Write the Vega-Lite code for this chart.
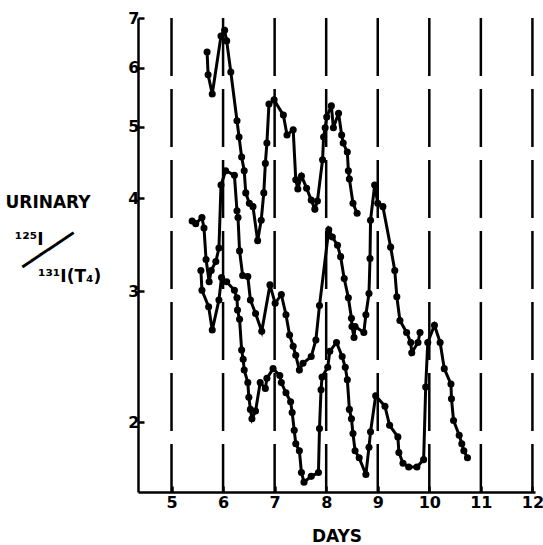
{
  "$schema": "https://vega.github.io/schema/vega-lite/v6.json",
  "width": 397,
  "height": 474,
  "autosize": {"type": "none"},
  "padding": {"left": 138, "top": 18, "right": 8, "bottom": 53},
  "background": "white",
  "datasets": {
    "days": [{"day": 5}, {"day": 6}, {"day": 7}, {"day": 8}, {"day": 9}, {"day": 10}, {"day": 11}, {"day": 12}],
    "series": [
      {"series": "A", "day": 5.69, "ratio": 6.30},
      {"series": "A", "day": 5.71, "ratio": 5.87},
      {"series": "A", "day": 5.79, "ratio": 5.53},
      {"series": "A", "day": 5.96, "ratio": 6.62},
      {"series": "A", "day": 6.03, "ratio": 6.74},
      {"series": "A", "day": 6.07, "ratio": 6.52},
      {"series": "A", "day": 6.15, "ratio": 5.92},
      {"series": "A", "day": 6.27, "ratio": 5.09},
      {"series": "A", "day": 6.31, "ratio": 4.84},
      {"series": "A", "day": 6.36, "ratio": 4.55},
      {"series": "A", "day": 6.41, "ratio": 4.36},
      {"series": "A", "day": 6.44, "ratio": 4.07},
      {"series": "A", "day": 6.51, "ratio": 3.94},
      {"series": "A", "day": 6.58, "ratio": 3.90},
      {"series": "A", "day": 6.67, "ratio": 3.51},
      {"series": "A", "day": 6.74, "ratio": 3.74},
      {"series": "A", "day": 6.79, "ratio": 4.07},
      {"series": "A", "day": 6.82, "ratio": 4.46},
      {"series": "A", "day": 6.85, "ratio": 4.75},
      {"series": "A", "day": 6.89, "ratio": 5.36},
      {"series": "A", "day": 6.99, "ratio": 5.43},
      {"series": "A", "day": 7.17, "ratio": 5.18},
      {"series": "A", "day": 7.24, "ratio": 4.87},
      {"series": "A", "day": 7.36, "ratio": 4.95},
      {"series": "A", "day": 7.41, "ratio": 4.24},
      {"series": "A", "day": 7.45, "ratio": 4.12},
      {"series": "A", "day": 7.52, "ratio": 4.29},
      {"series": "A", "day": 7.62, "ratio": 4.13},
      {"series": "A", "day": 7.71, "ratio": 3.98},
      {"series": "A", "day": 7.78, "ratio": 3.87},
      {"series": "A", "day": 7.83, "ratio": 3.97},
      {"series": "A", "day": 7.93, "ratio": 4.51},
      {"series": "A", "day": 7.95, "ratio": 4.84},
      {"series": "A", "day": 7.98, "ratio": 4.98},
      {"series": "A", "day": 8.01, "ratio": 5.15},
      {"series": "A", "day": 8.10, "ratio": 5.33},
      {"series": "A", "day": 8.14, "ratio": 4.98},
      {"series": "A", "day": 8.24, "ratio": 5.21},
      {"series": "A", "day": 8.30, "ratio": 4.87},
      {"series": "A", "day": 8.33, "ratio": 4.75},
      {"series": "A", "day": 8.41, "ratio": 4.62},
      {"series": "A", "day": 8.43, "ratio": 4.36},
      {"series": "A", "day": 8.45, "ratio": 4.25},
      {"series": "A", "day": 8.52, "ratio": 3.94},
      {"series": "A", "day": 8.60, "ratio": 3.82},
      {"series": "B", "day": 5.40, "ratio": 3.73},
      {"series": "B", "day": 5.47, "ratio": 3.70},
      {"series": "B", "day": 5.59, "ratio": 3.77},
      {"series": "B", "day": 5.63, "ratio": 3.65},
      {"series": "B", "day": 5.67, "ratio": 3.31},
      {"series": "B", "day": 5.73, "ratio": 3.09},
      {"series": "B", "day": 5.77, "ratio": 3.20},
      {"series": "B", "day": 5.86, "ratio": 3.29},
      {"series": "B", "day": 5.92, "ratio": 3.43},
      {"series": "B", "day": 5.96, "ratio": 4.17},
      {"series": "B", "day": 6.05, "ratio": 4.36},
      {"series": "B", "day": 6.22, "ratio": 4.30},
      {"series": "B", "day": 6.27, "ratio": 3.85},
      {"series": "B", "day": 6.29, "ratio": 3.77},
      {"series": "B", "day": 6.32, "ratio": 3.40},
      {"series": "B", "day": 6.38, "ratio": 3.15},
      {"series": "B", "day": 6.48, "ratio": 3.14},
      {"series": "B", "day": 6.53, "ratio": 2.92},
      {"series": "B", "day": 6.63, "ratio": 2.80},
      {"series": "B", "day": 6.75, "ratio": 2.65},
      {"series": "B", "day": 6.91, "ratio": 3.06},
      {"series": "B", "day": 7.01, "ratio": 2.89},
      {"series": "B", "day": 7.13, "ratio": 2.97},
      {"series": "B", "day": 7.22, "ratio": 2.79},
      {"series": "B", "day": 7.29, "ratio": 2.62},
      {"series": "B", "day": 7.36, "ratio": 2.53},
      {"series": "B", "day": 7.41, "ratio": 2.46},
      {"series": "B", "day": 7.48, "ratio": 2.35},
      {"series": "B", "day": 7.55, "ratio": 2.40},
      {"series": "B", "day": 7.71, "ratio": 2.45},
      {"series": "B", "day": 7.80, "ratio": 2.58},
      {"series": "B", "day": 7.87, "ratio": 2.87},
      {"series": "B", "day": 8.05, "ratio": 3.63},
      {"series": "B", "day": 8.12, "ratio": 3.55},
      {"series": "B", "day": 8.22, "ratio": 3.46},
      {"series": "B", "day": 8.28, "ratio": 3.34},
      {"series": "B", "day": 8.35, "ratio": 3.12},
      {"series": "B", "day": 8.43, "ratio": 2.94},
      {"series": "B", "day": 8.49, "ratio": 2.76},
      {"series": "B", "day": 8.50, "ratio": 2.69},
      {"series": "B", "day": 8.54, "ratio": 2.60},
      {"series": "B", "day": 8.56, "ratio": 2.69},
      {"series": "B", "day": 8.73, "ratio": 2.64},
      {"series": "B", "day": 8.77, "ratio": 2.79},
      {"series": "B", "day": 8.83, "ratio": 2.98},
      {"series": "B", "day": 8.85, "ratio": 3.32},
      {"series": "B", "day": 8.86, "ratio": 3.74},
      {"series": "B", "day": 8.94, "ratio": 4.17},
      {"series": "B", "day": 9.00, "ratio": 3.94},
      {"series": "B", "day": 9.10, "ratio": 3.90},
      {"series": "B", "day": 9.25, "ratio": 3.44},
      {"series": "B", "day": 9.33, "ratio": 3.20},
      {"series": "B", "day": 9.37, "ratio": 2.95},
      {"series": "B", "day": 9.43, "ratio": 2.74},
      {"series": "B", "day": 9.56, "ratio": 2.64},
      {"series": "B", "day": 9.64, "ratio": 2.56},
      {"series": "B", "day": 9.66, "ratio": 2.48},
      {"series": "B", "day": 9.78, "ratio": 2.56},
      {"series": "B", "day": 9.82, "ratio": 2.64},
      {"series": "C", "day": 5.57, "ratio": 3.20},
      {"series": "C", "day": 5.59, "ratio": 3.01},
      {"series": "C", "day": 5.72, "ratio": 2.86},
      {"series": "C", "day": 5.79, "ratio": 2.66},
      {"series": "C", "day": 5.92, "ratio": 2.92},
      {"series": "C", "day": 5.97, "ratio": 3.13},
      {"series": "C", "day": 6.07, "ratio": 3.09},
      {"series": "C", "day": 6.22, "ratio": 3.01},
      {"series": "C", "day": 6.27, "ratio": 2.94},
      {"series": "C", "day": 6.28, "ratio": 2.83},
      {"series": "C", "day": 6.32, "ratio": 2.75},
      {"series": "C", "day": 6.36, "ratio": 2.50},
      {"series": "C", "day": 6.39, "ratio": 2.43},
      {"series": "C", "day": 6.41, "ratio": 2.35},
      {"series": "C", "day": 6.48, "ratio": 2.26},
      {"series": "C", "day": 6.50, "ratio": 2.16},
      {"series": "C", "day": 6.53, "ratio": 2.08},
      {"series": "C", "day": 6.56, "ratio": 2.02},
      {"series": "C", "day": 6.63, "ratio": 2.07},
      {"series": "C", "day": 6.72, "ratio": 2.26},
      {"series": "C", "day": 6.82, "ratio": 2.22},
      {"series": "C", "day": 6.85, "ratio": 2.29},
      {"series": "C", "day": 6.97, "ratio": 2.36},
      {"series": "C", "day": 7.10, "ratio": 2.31},
      {"series": "C", "day": 7.13, "ratio": 2.26},
      {"series": "C", "day": 7.22, "ratio": 2.19},
      {"series": "C", "day": 7.31, "ratio": 2.13},
      {"series": "C", "day": 7.34, "ratio": 2.06},
      {"series": "C", "day": 7.38, "ratio": 1.95},
      {"series": "C", "day": 7.41, "ratio": 1.87},
      {"series": "C", "day": 7.48, "ratio": 1.83},
      {"series": "C", "day": 7.52, "ratio": 1.71},
      {"series": "C", "day": 7.57, "ratio": 1.66},
      {"series": "C", "day": 7.71, "ratio": 1.69},
      {"series": "C", "day": 7.85, "ratio": 1.71},
      {"series": "C", "day": 7.87, "ratio": 1.96},
      {"series": "C", "day": 7.90, "ratio": 2.21},
      {"series": "C", "day": 7.92, "ratio": 2.30},
      {"series": "C", "day": 8.03, "ratio": 2.37},
      {"series": "C", "day": 8.07, "ratio": 2.49},
      {"series": "C", "day": 8.20, "ratio": 2.56},
      {"series": "C", "day": 8.31, "ratio": 2.45},
      {"series": "C", "day": 8.37, "ratio": 2.37},
      {"series": "C", "day": 8.41, "ratio": 2.28},
      {"series": "C", "day": 8.45, "ratio": 2.08},
      {"series": "C", "day": 8.49, "ratio": 2.02},
      {"series": "C", "day": 8.52, "ratio": 1.93},
      {"series": "C", "day": 8.56, "ratio": 1.83},
      {"series": "C", "day": 8.64, "ratio": 1.79},
      {"series": "C", "day": 8.77, "ratio": 1.70},
      {"series": "C", "day": 8.83, "ratio": 1.85},
      {"series": "C", "day": 8.86, "ratio": 1.94},
      {"series": "C", "day": 8.96, "ratio": 2.17},
      {"series": "C", "day": 9.14, "ratio": 2.10},
      {"series": "C", "day": 9.23, "ratio": 1.98},
      {"series": "C", "day": 9.39, "ratio": 1.91},
      {"series": "C", "day": 9.41, "ratio": 1.82},
      {"series": "C", "day": 9.49, "ratio": 1.76},
      {"series": "C", "day": 9.60, "ratio": 1.74},
      {"series": "C", "day": 9.76, "ratio": 1.74},
      {"series": "C", "day": 9.89, "ratio": 1.78},
      {"series": "C", "day": 9.93, "ratio": 2.23},
      {"series": "C", "day": 9.97, "ratio": 2.56},
      {"series": "C", "day": 10.10, "ratio": 2.70},
      {"series": "C", "day": 10.21, "ratio": 2.56},
      {"series": "C", "day": 10.29, "ratio": 2.36},
      {"series": "C", "day": 10.42, "ratio": 2.25},
      {"series": "C", "day": 10.43, "ratio": 2.15},
      {"series": "C", "day": 10.47, "ratio": 2.01},
      {"series": "C", "day": 10.58, "ratio": 1.92},
      {"series": "C", "day": 10.63, "ratio": 1.87},
      {"series": "C", "day": 10.67, "ratio": 1.83},
      {"series": "C", "day": 10.74, "ratio": 1.79}
    ]
  },
  "layer": [
    {
      "data": {"name": "days"},
      "mark": {"type": "rule", "color": "black", "strokeWidth": 2.5, "strokeDash": [58, 13]},
      "encoding": {
        "x": {"field": "day", "type": "quantitative", "scale": {"domain": [4.35, 12.05], "nice": false, "zero": false},
          "axis": {"values": [5, 6, 7, 8, 9, 10, 11, 12], "title": "DAYS", "titlePadding": 18, "labelPadding": 8, "labelBaseline": "top"}}
      }
    },
    {
      "data": {"name": "series"},
      "mark": {"type": "line", "color": "black", "strokeWidth": 3},
      "encoding": {
        "x": {"field": "day", "type": "quantitative", "scale": {"domain": [4.35, 12.05], "nice": false, "zero": false},
          "axis": {"values": [5, 6, 7, 8, 9, 10, 11, 12], "title": "DAYS", "titlePadding": 18, "labelPadding": 8, "labelBaseline": "top"}},
        "y": {"field": "ratio", "type": "quantitative", "scale": {"type": "log", "domain": [1.61, 7], "nice": false},
          "axis": {"values": [2, 3, 4, 5, 6, 7], "labelPadding": 5,
            "title": ["URINARY", "\u2800", "\u200b\u00a0\u2009\u00b9\u00b2\u2075I", "\u2800", "\u2800\u2800\u00a0\u00b9\u00b3\u00b9I(T\u2084)"],
            "titleAngle": 0, "titleAlign": "left", "titleBaseline": "alphabetic", "titleX": -133, "titleY": 189, "titleLineHeight": 18.5}},
        "detail": {"field": "series"}
      }
    },
    {
      "data": {"name": "series"},
      "mark": {"type": "point", "filled": true, "color": "black", "opacity": 1, "size": 50},
      "encoding": {
        "x": {"field": "day", "type": "quantitative", "scale": {"domain": [4.35, 12.05], "nice": false, "zero": false},
          "axis": {"values": [5, 6, 7, 8, 9, 10, 11, 12], "title": "DAYS", "titlePadding": 18, "labelPadding": 8, "labelBaseline": "top"}},
        "y": {"field": "ratio", "type": "quantitative", "scale": {"type": "log", "domain": [1.61, 7], "nice": false},
          "axis": {"orient": "left", "domain": false, "ticks": false, "labels": false,
            "title": "\u2501\u2501\u2501\u2501\u2501\u2501", "titleAngle": -34, "titleAlign": "center", "titleBaseline": "middle",
            "titleX": -90, "titleY": 232, "titleFontSize": 17, "titleFontWeight": "normal"}}
      }
    }
  ],
  "resolve": {"axis": {"y": "independent"}},
  "config": {
    "view": {"stroke": null},
    "axis": {
      "grid": false,
      "domainColor": "black", "domainWidth": 2.5,
      "tickColor": "black", "tickWidth": 2.5, "tickSize": -6,
      "labelFont": "DejaVu Sans", "labelFontWeight": "bold", "labelFontSize": 16, "labelColor": "black", "labelFlush": false,
      "titleFont": "DejaVu Sans", "titleFontWeight": "bold", "titleFontSize": 17, "titleColor": "black"
    }
  }
}
